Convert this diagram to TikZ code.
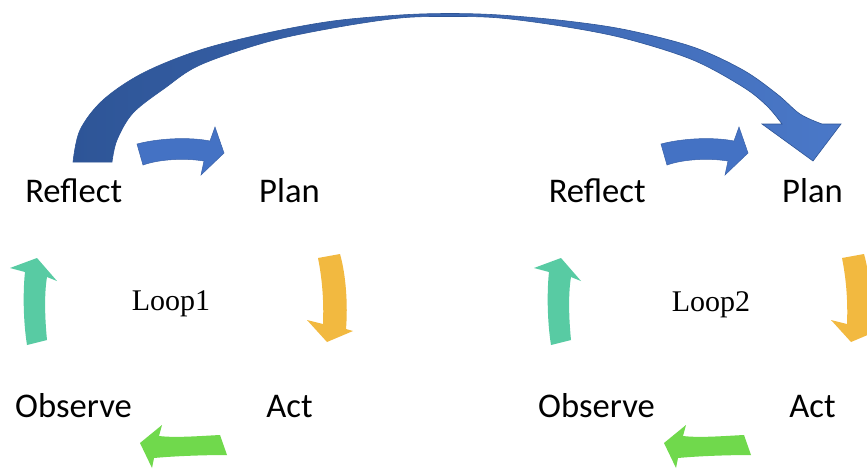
\documentclass[tikz,border=0pt]{standalone}
\usepackage{fontspec}
\setmainfont{Carlito}
\newfontfamily\loopfont{Liberation Serif}
\definecolor{arrowblue}{HTML}{4472C4}
\definecolor{arrowedge}{HTML}{3A62AA}
\definecolor{arcdark}{HTML}{2E5597}
\definecolor{arclight}{HTML}{4A78C8}
\definecolor{arrowyellow}{HTML}{F2B940}
\definecolor{arrowteal}{HTML}{58CBA3}
\definecolor{arrowgreen}{HTML}{70D94C}
\tikzset{
  wordtext/.style={font=\fontsize{34.6}{40}\selectfont, anchor=base, inner sep=0pt},
  looptext/.style={font=\loopfont\fontsize{30}{36}\selectfont, anchor=base, inner sep=0pt},
  looparrows/.pic={
    \filldraw[fill=arrowblue, draw=arrowedge, line width=0.5pt]
      (137,144) .. controls (160,138) and (190,137) .. (210,141) -- (215,127) -- (224,153)
      -- (201,175) -- (204,161) .. controls (185,158) and (160,159) .. (143,165) -- cycle;
    \fill[arrowyellow]
      (340,254) .. controls (346,275) and (348,305) .. (346,329) -- (353,331) -- (327,342)
      -- (307,320) -- (323,324) .. controls (324,300) and (322,278) .. (318,258) -- cycle;
    \fill[arrowgreen]
      (220,435) .. controls (200,436) and (175,438) .. (159,436) -- (162,425) -- (140,443)
      -- (152,468) -- (154,458) .. controls (175,456) and (205,455) .. (227,455) -- cycle;
    \fill[arrowteal]
      (27,345) .. controls (23,320) and (23,290) .. (25,272) -- (10,268) -- (37,258)
      -- (57,281) -- (47,277) .. controls (44,295) and (45,320) .. (47,340) -- cycle;
  }
}
\begin{document}
\begin{tikzpicture}[x=1pt,y=-1pt]
\useasboundingbox (0,0) rectangle (867,469);
\fill[white] (0,0) rectangle (867,469);
\clip (0,0) rectangle (867,469);

% big arc from Loop1 Reflect to Loop2 Plan
\path[draw=arcdark, line width=0.6pt, left color=arcdark, right color=arclight]
  plot[smooth, tension=0.55] coordinates {(73,162) (80,130) (103,100) (143,73) (200,50) (267,33) (333,21) (400,15) (450,13.5) (500,15) (567,21) (627,30) (693,47) (743,70) (777,94) (800,114) (822,124)}
  -- (841,124) -- (813,161) -- (762,124)
  -- plot[smooth, tension=0.55] coordinates {(782,124) (767,106) (743,87) (693,60) (627,39) (567,27) (500,18) (450,16.5) (400,18) (333,28) (267,42) (200,65) (165,88) (133,113) (117,140) (112,162)}
  -- cycle;

% loop arrows
\pic at (0,0) {looparrows};
\pic at (524,0) {looparrows};

% Loop 1
\node[wordtext] (reflect1) at (73.7,202) {Reflect};
\node[wordtext] (plan1) at (289.5,202) {Plan};
\node[wordtext] (act1) at (289.5,417) {Act};
\node[wordtext] (observe1) at (73.5,417) {Observe};
\node[looptext] (loop1) at (171,310) {Loop1};

% Loop 2
\node[wordtext] (reflect2) at (597.2,202) {Reflect};
\node[wordtext] (plan2) at (812.5,202) {Plan};
\node[wordtext] (act2) at (812.5,417) {Act};
\node[wordtext] (observe2) at (596.5,417) {Observe};
\node[looptext] (loop2) at (711,311) {Loop2};
\end{tikzpicture}
\end{document}
